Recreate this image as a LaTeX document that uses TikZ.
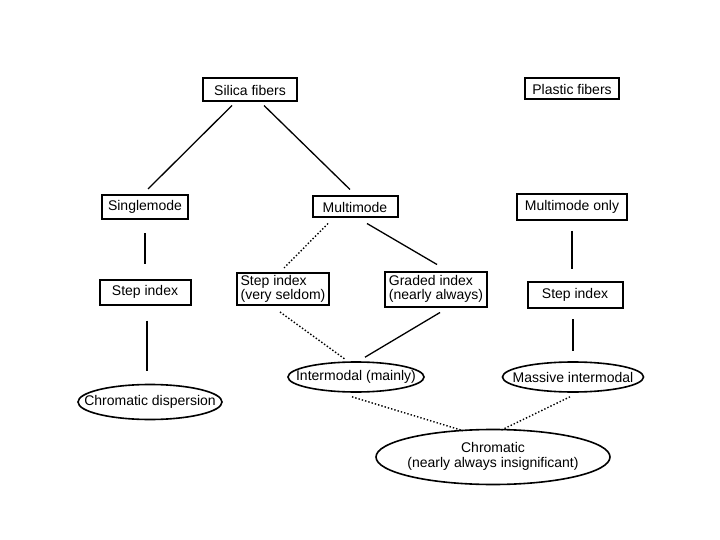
\documentclass[tikz,border=0pt]{standalone}
\usepackage{fontspec}
\setmainfont{Liberation Sans}
\usetikzlibrary{shapes.geometric}
\begin{document}
\begin{tikzpicture}[x=1pt,y=-1pt,
  txt/.style={font=\fontsize{14}{14}\selectfont},
  box/.style={txt, draw, line width=2pt, inner sep=2pt},
  ell/.style={txt, draw, ellipse, line width=1.6pt, inner sep=0pt},
  conn/.style={line width=1.3pt},
  dotconn/.style={line width=1.4pt, dotted}]
\useasboundingbox (0,0) rectangle (720,540);

\node[box, minimum width=94, minimum height=23] (silica) at (250,90) {Silica fibers};
\node[box, minimum width=94, minimum height=21] (plastic) at (572,89) {Plastic fibers};
\node[box, minimum width=86, minimum height=24] (single) at (145,207) {Singlemode};
\node[box, minimum width=85, minimum height=21] (multi) at (355,207) {Multimode};
\node[box, minimum width=110, minimum height=26] (mmo) at (572,207) {Multimode only};
\node[box, minimum width=91, minimum height=25] (stepL) at (145,292) {Step index};
\node[box, minimum width=92, minimum height=32, align=left] (stepvs) at (283,289) {Step index\\(very seldom)};
\node[box, minimum width=102, minimum height=35, align=left] (graded) at (436,289) {Graded index\\(nearly always)};
\node[box, minimum width=95, minimum height=26] (stepR) at (575,295) {Step index};

\node[ell, minimum width=144, minimum height=35] (chromdisp) at (150,402) {\makebox[0pt]{Chromatic dispersion}};
\node[ell, minimum width=136, minimum height=30] (inter) at (356,377) {\makebox[0pt]{Intermodal (mainly)}};
\node[ell, minimum width=141, minimum height=30] (massive) at (573,377) {\makebox[0pt]{Massive intermodal}};
\node[ell, minimum width=234, minimum height=55] (chrom) at (493,457) {\makebox[0pt]{\begin{tabular}{@{}c@{}}Chromatic\\(nearly always insignificant)\end{tabular}}};

\draw[conn] ([shift={(-18,3)}]silica.south) -- ([shift={(3,-5)}]single.north);
\draw[conn] ([shift={(14,3)}]silica.south) -- ([shift={(-5,-6)}]multi.north);
\draw[conn] ([shift={(0,13)}]single.south) -- ([shift={(0,-15)}]stepL.north);
\draw[conn] ([shift={(2,15)}]stepL.south) -- ([shift={(-3,-13)}]chromdisp.north);
\draw[dotconn] ([shift={(-27,5)}]multi.south) -- ([shift={(1,-4)}]stepvs.north);
\draw[conn] ([shift={(12,5)}]multi.south) -- ([shift={(1,-6)}]graded.north);
\draw[dotconn] ([shift={(-3,6)}]stepvs.south) -- ([shift={(-11,-2)}]inter.north);
\draw[conn] ([shift={(4,5)}]graded.south) -- ([shift={(9,-4)}]inter.north);
\draw[conn] ([shift={(0,10)}]mmo.south) -- ([shift={(-3,-12)}]stepR.north);
\draw[conn] ([shift={(-2,10)}]stepR.south) -- ([shift={(0,-10)}]massive.north);
\draw[dotconn] ([shift={(-4,4)}]inter.south) -- ([shift={(-30,2)}]chrom.north);
\draw[dotconn] ([shift={(-3,4)}]massive.south) -- ([shift={(7,2)}]chrom.north);
\end{tikzpicture}
\end{document}
